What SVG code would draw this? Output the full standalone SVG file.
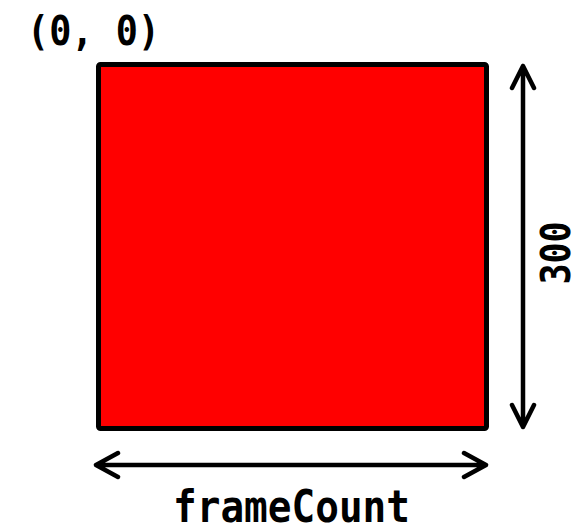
<svg xmlns="http://www.w3.org/2000/svg" width="578" height="526" viewBox="0 0 578 526">
<style>
.lbl{font-family:"DejaVu Sans Mono","Liberation Mono",monospace;font-weight:bold;fill:#000}
.dim{fill:none;stroke:#000;stroke-width:4.5;stroke-linecap:round;stroke-linejoin:round}
</style>
<rect width="578" height="526" fill="#fff"/>
<g id="frame">
<rect x="98.5" y="64.5" width="388" height="364" rx="2" fill="#ff0000" stroke="#000" stroke-width="5"/>
</g>
<g id="origin-label">
<text class="lbl" x="27" y="45" font-size="37" textLength="133" lengthAdjust="spacingAndGlyphs" transform="translate(0,-4.5) scale(1,1.1)">(0, 0)</text>
</g>
<g id="connectors">
<path class="dim" d="M523 66V427M512 88L523 66L534 88M512 405L523 427L534 405"/>
<path class="dim" d="M96 465H486M118 453L96 465L118 477M464 453L486 465L464 477"/>
</g>
<g id="height-label">
<text class="lbl" x="253" y="0" font-size="37" text-anchor="middle" textLength="63" lengthAdjust="spacingAndGlyphs" transform="translate(570,506) rotate(-90) scale(1,1.1)">300</text>
</g>
<g id="width-label">
<text class="lbl" x="291.5" y="474.5" font-size="40" text-anchor="middle" textLength="237" lengthAdjust="spacingAndGlyphs" transform="scale(1,1.1)">frameCount</text>
</g>
</svg>
